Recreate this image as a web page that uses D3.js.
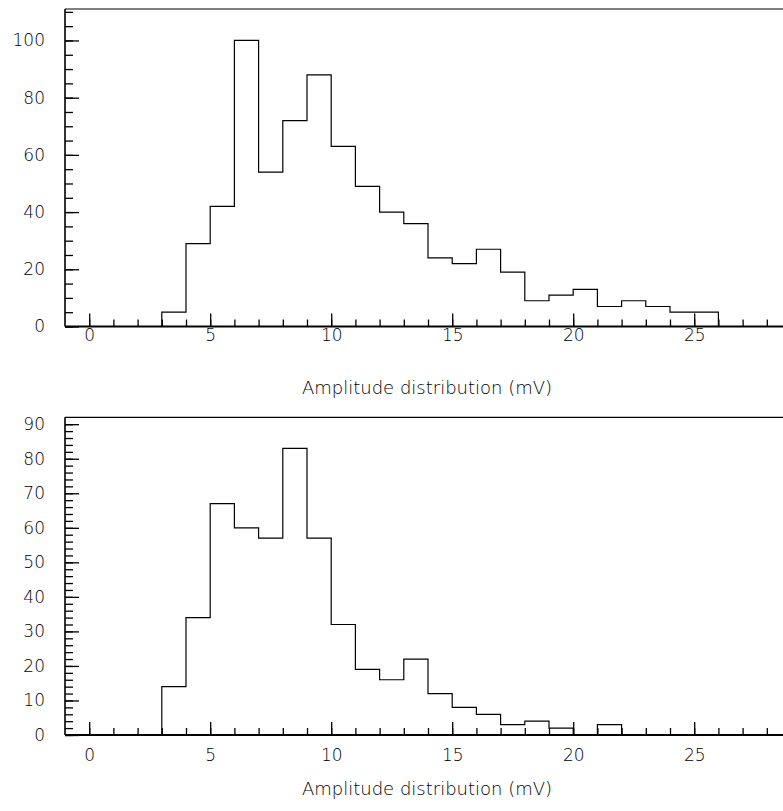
<!DOCTYPE html>
<html>
<head>
<meta charset="utf-8">
<script src="https://cdn.jsdelivr.net/npm/d3@7"></script>
<style>
  body { margin: 0; background: #fff; }
  svg { display: block; }
  text { font-family: "DejaVu Sans ExtraLight", "DejaVu Sans", sans-serif; font-weight: 200; fill: #000; }
</style>
</head>
<body>
<script>
// amplitude histograms, 1 mV bins starting at 3 mV
var binStart = 3;
var topCounts = [5, 29, 42, 100, 54, 72, 88, 63, 49, 40, 36, 24, 22, 27, 19, 9, 11, 13, 7, 9, 7, 5, 5];
var bottomCounts = [14, 34, 67, 60, 57, 83, 57, 32, 19, 16, 22, 12, 8, 6, 3, 4, 2, 0, 3];
var xTicks = [0, 5, 10, 15, 20, 25];
var topYTicks = [0, 20, 40, 60, 80, 100];
var bottomYTicks = [0, 10, 20, 30, 40, 50, 60, 70, 80, 90];
var xTitle = "Amplitude distribution (mV)";

var width = 783, height = 811;
var svg = d3.select(document.body).append("svg")
  .attr("width", width)
  .attr("height", height);

var x = d3.scaleLinear().domain([-1, 30]).range([65, 65 + 31 * 24.2]);

function panel(counts, yMax, top, bottom, yTicks, yMinorStep, labelPad, titleY) {
  var y = d3.scaleLinear().domain([0, yMax]).range([bottom, top]);
  var g = svg.append("g");

  // minor ticks
  g.append("g")
    .attr("transform", "translate(0," + bottom + ")")
    .call(d3.axisBottom(x).tickValues(d3.range(0, 29)).tickSize(-7).tickFormat(""));
  g.append("g")
    .attr("transform", "translate(" + x(-1) + ",0)")
    .call(d3.axisLeft(y).tickValues(d3.range(0, yMax, yMinorStep)).tickSize(-8).tickFormat(""));

  // major ticks + labels
  g.append("g")
    .attr("transform", "translate(0," + bottom + ")")
    .call(d3.axisBottom(x).tickValues(xTicks).tickSize(-13).tickPadding(labelPad));
  g.append("g")
    .attr("transform", "translate(" + x(-1) + ",0)")
    .call(d3.axisLeft(y).tickValues(yTicks).tickSize(-14).tickPadding(20));

  g.selectAll(".domain").remove();
  g.selectAll(".tick line").attr("stroke", "#000").attr("stroke-width", 1.3);
  g.selectAll(".tick text")
    .attr("font-size", 17)
    .attr("font-family", null)
    .style("font-family", "'DejaVu Sans ExtraLight', 'DejaVu Sans', sans-serif");
  g.selectAll("g").attr("font-family", null);

  // frame
  g.append("line").attr("x1", x(-1)).attr("x2", x(30)).attr("y1", y(yMax)).attr("y2", y(yMax))
    .attr("stroke", "#000").attr("stroke-width", 1.2);
  g.append("line").attr("x1", x(-1)).attr("x2", x(-1)).attr("y1", y(yMax)).attr("y2", y(0))
    .attr("stroke", "#000").attr("stroke-width", 1.6);
  g.append("line").attr("x1", x(-1)).attr("x2", x(30)).attr("y1", y(0)).attr("y2", y(0))
    .attr("stroke", "#000").attr("stroke-width", 2);

  // histogram outline
  var pts = [[binStart, 0]];
  counts.forEach(function(c, i) { pts.push([binStart + i, c]); });
  pts.push([binStart + counts.length, counts[counts.length - 1]]);
  pts.push([binStart + counts.length, 0]);
  var line = d3.line()
    .x(function(d) { return x(d[0]); })
    .y(function(d) { return y(d[1]); })
    .curve(d3.curveStepAfter);
  g.append("path")
    .attr("d", line(pts))
    .attr("fill", "none")
    .attr("stroke", "#000")
    .attr("stroke-width", 1.2);

  g.append("text")
    .attr("x", 427)
    .attr("y", titleY)
    .attr("text-anchor", "middle")
    .attr("font-size", 18)
    .text(xTitle);
}

panel(topCounts, 111, 9, 326.5, topYTicks, 5, 2, 394);
panel(bottomCounts, 92, 417.3, 735, bottomYTicks, 2, 14, 795);
</script>
</body>
</html>
